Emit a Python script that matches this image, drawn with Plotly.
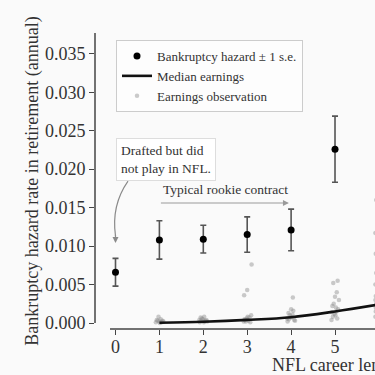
import plotly.graph_objects as go

# ---- data ----
career_years = [0, 1, 2, 3, 4, 5]
hazard_rate = [0.0066, 0.0108, 0.0109, 0.0115, 0.0121, 0.0226]
hazard_se = [0.0018, 0.0025, 0.0018, 0.0023, 0.0027, 0.0043]

median_years = [1, 2, 3, 4, 5, 6]
median_earnings = [0.00004, 0.00017, 0.00040, 0.00075, 0.00150, 0.00240]

obs_x = [
    0.92, 0.96, 1.00, 1.05, 1.09, 0.94, 1.03, 1.07, 0.98, 1.01,
    1.92, 1.95, 1.99, 2.03, 2.07, 1.94, 2.01, 2.05, 1.97, 2.09, 1.91, 2.02,
    2.92, 2.95, 2.99, 3.03, 3.07, 2.94, 3.01, 3.05, 2.97, 3.09, 2.93, 3.00, 3.10,
    3.92, 3.95, 3.99, 4.03, 4.07, 3.94, 4.01, 4.05, 3.97, 4.09, 3.91, 4.04, 4.00,
    4.92, 4.95, 4.99, 5.03, 5.07, 4.94, 5.01, 5.05, 4.97, 5.09, 5.00, 5.04,
    4.96, 5.06, 4.93, 5.02,
    5.92, 5.93, 5.94, 5.93, 5.92, 5.94, 5.93, 5.92, 5.94, 5.93, 5.92,
]
obs_y = [
    0.0001, 0.0003, 0.0002, 0.0001, 0.0002, 0.0004, 0.0005, 0.0003, 0.0008, 0.0000,
    0.0001, 0.0003, 0.0005, 0.0002, 0.0004, 0.0007, 0.0001, 0.0003, 0.0006, 0.0002, 0.0004, 0.0008,
    0.0002, 0.0004, 0.0006, 0.0003, 0.0001, 0.0005, 0.0008, 0.0007, 0.0002, 0.0010, 0.0036, 0.0043, 0.0076,
    0.0002, 0.0005, 0.0008, 0.0011, 0.0004, 0.0013, 0.0007, 0.0016, 0.0010, 0.0003, 0.0006, 0.0033, 0.0018,
    0.0004, 0.0008, 0.0012, 0.0015, 0.0018, 0.0022, 0.0010, 0.0006, 0.0025, 0.0030, 0.0034, 0.0040,
    0.0052, 0.0055, 0.0014, 0.0020,
    0.0008, 0.0015, 0.0025, 0.0035, 0.0050, 0.0065, 0.0090, 0.0117, 0.0160, 0.0020, 0.0030,
]

y_ticks = [0.000, 0.005, 0.010, 0.015, 0.020, 0.025, 0.030, 0.035]
x_ticks = [0, 1, 2, 3, 4, 5, 6, 7]

# ---- style ----
FONT = "Liberation Serif"
INK = "#333333"
BG = "#fafafa"
Y_RANGE = [-0.00078, 0.0377]
X_RANGE = [-0.467, 5.911]
L, R, T, B = 95, 0, 33, 46
W = H = 375

fig = go.Figure()

fig.add_trace(go.Scatter(
    x=obs_x, y=obs_y, mode="markers", name="Earnings observation",
    marker=dict(size=4.5, color="rgba(140,140,140,0.45)", line=dict(width=0)),
))
fig.add_trace(go.Scatter(
    x=median_years, y=median_earnings, mode="lines", name="Median earnings",
    line=dict(color="#111111", width=2.6, shape="spline"),
))
fig.add_trace(go.Scatter(
    x=career_years, y=hazard_rate, mode="markers",
    name="Bankruptcy hazard \u00b1 1 s.e.",
    marker=dict(size=7, color="#000000"),
    error_y=dict(type="data", array=hazard_se, visible=True,
                 color="#555555", thickness=1.6, width=3),
))

# offset spines (matplotlib style)
plot_h = H - T - B
plot_w = W - L - R
y0_paper = (0 - Y_RANGE[0]) / (Y_RANGE[1] - Y_RANGE[0])
x_spine_start = (-0.125 - X_RANGE[0]) / (X_RANGE[1] - X_RANGE[0])
shapes = [
    dict(type="line", xref="paper", yref="paper", x0=0, x1=0, y0=y0_paper, y1=1,
         line=dict(color="#444444", width=1.5)),
    dict(type="line", xref="paper", yref="paper", x0=x_spine_start, x1=1.05, y0=0, y1=0,
         line=dict(color="#444444", width=1.5)),
    dict(type="path", xref="x", yref="y",
         path="M 0.285,0.01844 Q -0.10,0.0153 0,0.0113",
         line=dict(color="#8a8a8a", width=1.2)),
]

annotations = [
    dict(x=1.15, y=0.0213, xref="x", yref="y", showarrow=False,
         text="Drafted but did<br>not play in NFL.", align="left",
         font=dict(family=FONT, size=13.5, color=INK),
         bgcolor="#ffffff", bordercolor="#dddddd", borderwidth=1, borderpad=4),
    dict(x=0, y=0.0104, xref="x", yref="y", ax=0, ay=0.0116, axref="x", ayref="y",
         text="", showarrow=True, arrowhead=2, arrowsize=1, arrowwidth=1.2,
         arrowcolor="#8a8a8a"),
    dict(x=2.5, y=0.0173, xref="x", yref="y", showarrow=False,
         text="Typical rookie contract",
         font=dict(family=FONT, size=13.5, color=INK)),
    dict(x=3.95, y=0.0156, xref="x", yref="y", ax=1, ay=0.0156, axref="x", ayref="y",
         text="", showarrow=True, arrowhead=2, arrowsize=1, arrowwidth=1.2,
         arrowcolor="#9a9a9a"),
    dict(x=(270 - L) / plot_w, y=-36 / plot_h, xref="paper", yref="paper",
         xanchor="left", yanchor="middle", showarrow=False,
         text="NFL career length (years)",
         font=dict(family=FONT, size=18, color=INK)),
]

fig.update_layout(
    width=W, height=H,
    margin=dict(l=L, r=R, t=T, b=B, autoexpand=False),
    paper_bgcolor=BG, plot_bgcolor=BG,
    font=dict(family=FONT, size=18, color=INK),
    showlegend=True,
    legend=dict(
        x=(116 - L) / plot_w, y=1 - (40 - T) / plot_h, xanchor="left", yanchor="top",
        bgcolor="rgba(255,255,255,0.6)", bordercolor="#cccccc", borderwidth=1,
        font=dict(family=FONT, size=13, color=INK), traceorder="reversed",
        tracegroupgap=0,
    ),
    shapes=shapes,
    annotations=annotations,
    xaxis=dict(
        range=X_RANGE, tickvals=x_ticks, showgrid=False, zeroline=False,
        showline=False, ticks="outside", ticklen=5, tickwidth=1.2, tickcolor="#444444",
        tickfont=dict(family=FONT, size=18, color=INK), ticklabelstandoff=-4,
    ),
    yaxis=dict(
        range=Y_RANGE, tickvals=y_ticks, tickformat=".3f", showgrid=False,
        zeroline=False, showline=False, ticks="outside", ticklen=5, tickwidth=1.2,
        tickcolor="#444444", tickfont=dict(family=FONT, size=18, color=INK),
        title=dict(text="Bankruptcy hazard rate in retirement (annual)",
                   font=dict(family=FONT, size=18, color=INK), standoff=1),
    ),
)

fig.write_html(
    "out.html",
    config={"displayModeBar": False},
    post_script="document.body.style.margin='0';document.body.style.overflow='hidden';"
                "document.body.style.background='" + BG + "';",
)
